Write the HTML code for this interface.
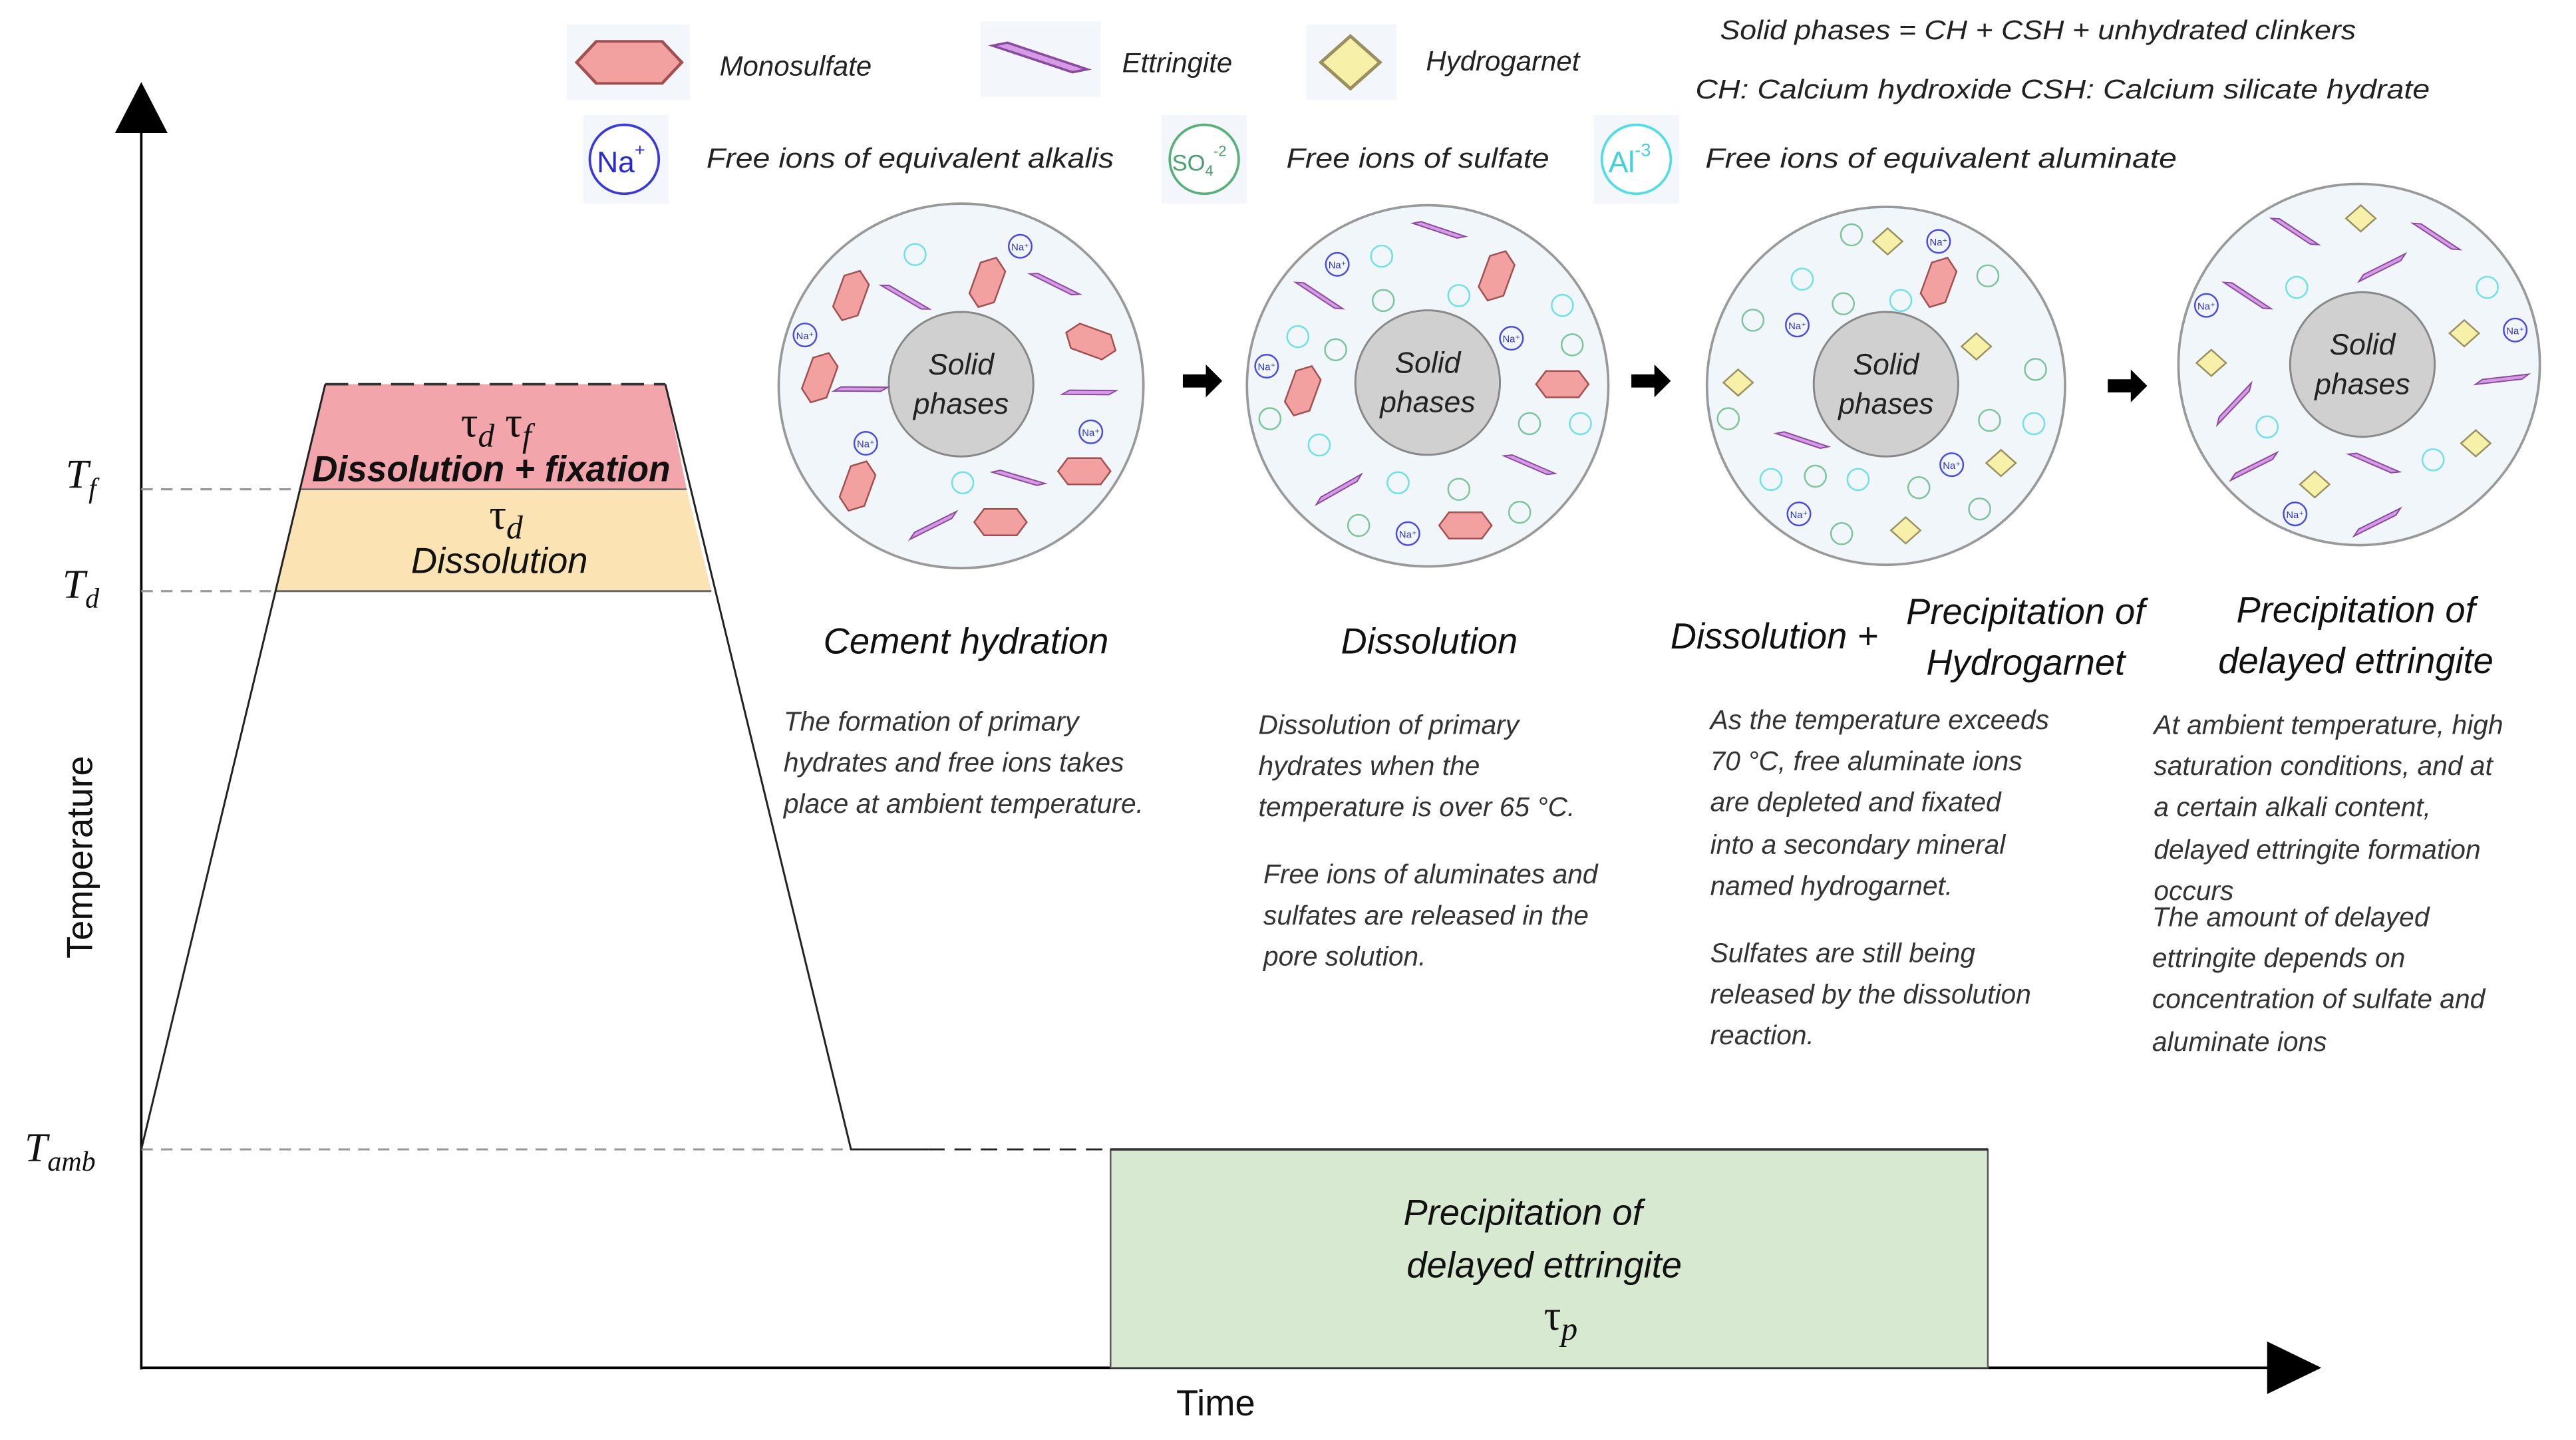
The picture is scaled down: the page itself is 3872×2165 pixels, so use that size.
<!DOCTYPE html>
<html><head><meta charset="utf-8"><style>
html,body{margin:0;padding:0;background:#fff;}
svg{display:block;}
text{font-family:"Liberation Sans",sans-serif;}
text.serif, .serif tspan{font-family:"Liberation Serif",serif;}
.it{font-style:italic;fill:#222;}
.p{font-size:16.5px;font-style:italic;fill:#333;}
.h{font-size:22px;font-style:italic;fill:#111;}
</style></head><body>
<svg width="3872" height="2165" viewBox="0 0 1568 877" preserveAspectRatio="none" xmlns="http://www.w3.org/2000/svg">
<defs>
<polygon id="hex" points="-16,0 -10,-8 10,-8 16,0 10,8 -10,8" fill="#f2a0a0" stroke="#a05050" stroke-width="1"/>
<polygon id="ett" points="-16,-4 -11,-5 16,4 11,5" fill="#d79be6" stroke="#8a4aa0" stroke-width="0.8"/>
<polygon id="dia" points="0,-8 9,0 0,8 -9,0" fill="#f7f0a8" stroke="#999060" stroke-width="1"/>
<g id="na"><circle r="7" fill="none" stroke="#4a4ae0" stroke-width="1"/><text x="0" y="2.5" font-size="6" text-anchor="middle" fill="#3030c0">Na⁺</text></g>
<circle id="al" r="6.5" fill="none" stroke="#6ee0e8" stroke-width="1"/>
<circle id="so" r="6.5" fill="none" stroke="#7cc49a" stroke-width="1"/>
<polygon id="arr" points="-12,-4 2,-4 2,-10 12,0 2,10 2,4 -12,4" fill="#000"/>
</defs>

<line x1="86" y1="70" x2="86" y2="834" stroke="#000" stroke-width="1.5"/>
<polygon points="70,81 86,50 102,81" fill="#000"/>
<line x1="86" y1="833" x2="1385" y2="833" stroke="#000" stroke-width="1.5"/>
<polygon points="1380,817 1413,833 1380,849" fill="#000"/>

<g stroke="#999" stroke-width="1.3" stroke-dasharray="7,5">
<line x1="86" y1="298" x2="183" y2="298"/>
<line x1="86" y1="360" x2="168" y2="360"/>
<line x1="86" y1="700" x2="518" y2="700"/>
</g>

<polygon points="198,234 405,234 418,298 183,298" fill="#f2a5ab"/>
<polygon points="183,298 418,298 433,360 168,360" fill="#fbe3b4"/>
<line x1="183" y1="298" x2="418" y2="298" stroke="#666" stroke-width="1"/>
<line x1="168" y1="360" x2="433" y2="360" stroke="#666" stroke-width="1.2"/>
<line x1="198" y1="234" x2="405" y2="234" stroke="#333" stroke-width="1.5" stroke-dasharray="14,6"/>
<polyline points="86,700 198,234" fill="none" stroke="#222" stroke-width="1.2"/>
<polyline points="405,234 518,700 565,700" fill="none" stroke="#222" stroke-width="1.2"/>
<line x1="565" y1="700" x2="676" y2="700" stroke="#222" stroke-width="1.2" stroke-dasharray="10,6"/>

<rect x="676" y="700" width="534" height="133" fill="#d7e9d0" stroke="#555" stroke-width="1"/>
<line x1="676" y1="700" x2="1210" y2="700" stroke="#333" stroke-width="1.5"/>
<text x="927" y="746" class="h" text-anchor="middle">Precipitation of</text>
<text x="940" y="778" class="h" text-anchor="middle">delayed ettringite</text>
<text x="950" y="810" font-size="26" text-anchor="middle" class="serif" fill="#111">τ<tspan font-style="italic" font-size="20" dy="6">p</tspan></text>

<text x="302" y="266" font-size="26" text-anchor="middle" fill="#111" class="serif">τ<tspan font-style="italic" font-size="20" dy="6">d</tspan><tspan dy="-6"> τ</tspan><tspan font-style="italic" font-size="20" dy="6">f</tspan></text>
<text x="299" y="293" class="h" text-anchor="middle" font-weight="bold" font-size="21" textLength="218" lengthAdjust="spacingAndGlyphs">Dissolution + fixation</text>
<text x="308" y="322" font-size="26" text-anchor="middle" fill="#111" class="serif">τ<tspan font-style="italic" font-size="20" dy="6">d</tspan></text>
<text x="304" y="349" class="h" text-anchor="middle">Dissolution</text>

<text x="40" y="297" font-size="25" font-style="italic" class="serif" fill="#111">T<tspan font-size="17" dy="6">f</tspan></text>
<text x="38" y="364" font-size="25" font-style="italic" class="serif" fill="#111">T<tspan font-size="17" dy="6">d</tspan></text>
<text x="15" y="707" font-size="25" font-style="italic" class="serif" fill="#111">T<tspan font-size="17" dy="6">amb</tspan></text>
<text transform="translate(56,522) rotate(-90)" font-size="22" text-anchor="middle" fill="#111">Temperature</text>
<text x="740" y="862" font-size="22" text-anchor="middle" fill="#111">Time</text>

<rect x="345" y="15" width="75" height="46" fill="#f3f7fb"/>
<use href="#hex" transform="translate(383,38) scale(2,1.6)"/>
<text x="438" y="46" font-size="17" class="it">Monosulfate</text>
<rect x="597" y="13" width="73" height="46" fill="#f3f7fb"/>
<use href="#ett" transform="translate(633,35) scale(1.8,1.8)"/>
<text x="683" y="44" font-size="17" class="it">Ettringite</text>
<rect x="795" y="15" width="55" height="46" fill="#f3f7fb"/>
<use href="#dia" transform="translate(822,38) scale(2)"/>
<text x="868" y="43" font-size="17" class="it">Hydrogarnet</text>
<text x="1047" y="24" font-size="16.5" class="it" textLength="387" lengthAdjust="spacingAndGlyphs">Solid phases = CH + CSH + unhydrated clinkers</text>
<text x="1032" y="60" font-size="16.5" class="it" textLength="447" lengthAdjust="spacingAndGlyphs">CH: Calcium hydroxide   CSH: Calcium silicate hydrate</text>

<rect x="355" y="70" width="52" height="54" fill="#f3f7fb"/>
<circle cx="380" cy="97" r="21" fill="#fff" stroke="#3a3ad8" stroke-width="1.5"/>
<text x="378" y="105" font-size="18" text-anchor="middle" fill="#2a2ad0">Na<tspan font-size="11" dy="-10">+</tspan></text>
<text x="430" y="102" font-size="17" class="it" textLength="248" lengthAdjust="spacingAndGlyphs">Free ions of equivalent alkalis</text>
<rect x="707" y="70" width="52" height="54" fill="#f3f7fb"/>
<circle cx="733" cy="97" r="21" fill="#fff" stroke="#58b07a" stroke-width="1.5"/>
<text x="730" y="104" font-size="14" text-anchor="middle" fill="#4aa070">SO<tspan font-size="9" dy="3">4</tspan><tspan font-size="9" dy="-12">-2</tspan></text>
<text x="783" y="102" font-size="17" class="it" textLength="160" lengthAdjust="spacingAndGlyphs">Free ions of sulfate</text>
<rect x="970" y="70" width="52" height="54" fill="#f3f7fb"/>
<circle cx="996" cy="97" r="21" fill="#fff" stroke="#50dde6" stroke-width="1.5"/>
<text x="992" y="105" font-size="18" text-anchor="middle" fill="#40d0dc">Al<tspan font-size="11" dy="-10">-3</tspan></text>
<text x="1038" y="102" font-size="17" class="it" textLength="287" lengthAdjust="spacingAndGlyphs">Free ions of equivalent  aluminate</text>

<g stroke="#999" stroke-width="1.5">
<circle cx="585" cy="235" r="111" fill="#f0f6fa"/>
<circle cx="869" cy="235" r="110" fill="#f0f6fa"/>
<circle cx="1148" cy="235" r="109" fill="#f0f6fa"/>
<circle cx="1436" cy="222" r="110" fill="#f0f6fa"/>
</g>
<g fill="#d0d0d0" stroke="#888" stroke-width="1.2">
<circle cx="585" cy="234" r="44"/>
<circle cx="869" cy="233" r="44"/>
<circle cx="1148" cy="234" r="44"/>
<circle cx="1438" cy="222" r="44"/>
</g>
<g font-size="18" font-style="italic" fill="#222" text-anchor="middle">
<text x="585" y="228">Solid</text><text x="585" y="252">phases</text>
<text x="869" y="227">Solid</text><text x="869" y="251">phases</text>
<text x="1148" y="228">Solid</text><text x="1148" y="252">phases</text>
<text x="1438" y="216">Solid</text><text x="1438" y="240">phases</text>
</g>

<use href="#hex" transform="translate(518,180) rotate(-70)"/>
<use href="#hex" transform="translate(601,172) rotate(-70)"/>
<use href="#hex" transform="translate(664,208) rotate(20)"/>
<use href="#hex" transform="translate(499,230) rotate(-70)"/>
<use href="#hex" transform="translate(522,296) rotate(-70)"/>
<use href="#hex" transform="translate(660,287)"/>
<use href="#hex" transform="translate(609,318)"/>
<use href="#ett" transform="translate(551,181) rotate(12)"/>
<use href="#ett" transform="translate(642,173) rotate(8)"/>
<use href="#ett" transform="translate(524,237) rotate(-18)"/>
<use href="#ett" transform="translate(663,239) rotate(-18)"/>
<use href="#ett" transform="translate(620,291) rotate(-2)"/>
<use href="#ett" transform="translate(568,320) rotate(-45)"/>
<use href="#na" x="621" y="150"/><use href="#na" x="490" y="204"/><use href="#na" x="527" y="270"/><use href="#na" x="664" y="263"/>
<use href="#al" x="557" y="155"/><use href="#al" x="586" y="294"/>

<use href="#ett" transform="translate(876,140) rotate(0)"/>
<use href="#ett" transform="translate(803,180) rotate(15)"/>
<use href="#ett" transform="translate(931,283) rotate(5)"/>
<use href="#ett" transform="translate(815,298) rotate(-48)"/>
<use href="#hex" transform="translate(911,168) rotate(-70)"/>
<use href="#hex" transform="translate(793,238) rotate(-70)"/>
<use href="#hex" transform="translate(951,234)"/>
<use href="#hex" transform="translate(892,320)"/>
<use href="#na" x="814" y="161"/><use href="#na" x="920" y="206"/><use href="#na" x="771" y="223"/><use href="#na" x="857" y="325"/>
<use href="#al" x="841" y="156"/><use href="#al" x="888" y="180"/><use href="#al" x="951" y="186"/><use href="#al" x="790" y="205"/><use href="#al" x="803" y="271"/><use href="#al" x="851" y="294"/><use href="#al" x="962" y="258"/>
<use href="#so" x="842" y="183"/><use href="#so" x="813" y="213"/><use href="#so" x="957" y="210"/><use href="#so" x="773" y="255"/><use href="#so" x="931" y="258"/><use href="#so" x="888" y="298"/><use href="#so" x="827" y="320"/><use href="#so" x="925" y="312"/>

<use href="#dia" x="1149" y="147"/><use href="#dia" x="1203" y="211"/><use href="#dia" x="1058" y="233"/><use href="#dia" x="1218" y="282"/><use href="#dia" x="1160" y="323"/>
<use href="#hex" transform="translate(1180,172) rotate(-70)"/>
<use href="#ett" transform="translate(1097,268) rotate(0)"/>
<use href="#na" x="1180" y="147"/><use href="#na" x="1094" y="198"/><use href="#na" x="1188" y="283"/><use href="#na" x="1095" y="313"/>
<use href="#so" x="1127" y="143"/><use href="#so" x="1210" y="168"/><use href="#al" x="1097" y="170"/><use href="#al" x="1157" y="183"/><use href="#so" x="1122" y="185"/><use href="#so" x="1067" y="195"/><use href="#so" x="1239" y="225"/><use href="#so" x="1052" y="255"/><use href="#so" x="1211" y="256"/><use href="#al" x="1238" y="258"/><use href="#al" x="1078" y="292"/><use href="#so" x="1105" y="290"/><use href="#al" x="1131" y="292"/><use href="#so" x="1168" y="297"/><use href="#so" x="1205" y="310"/><use href="#so" x="1121" y="325"/>

<use href="#dia" x="1437" y="133"/><use href="#dia" x="1346" y="221"/><use href="#dia" x="1500" y="203"/><use href="#dia" x="1507" y="270"/><use href="#dia" x="1409" y="295"/>
<use href="#ett" transform="translate(1397,141) rotate(15)"/>
<use href="#ett" transform="translate(1483,144) rotate(15)"/>
<use href="#ett" transform="translate(1450,163) rotate(-45)"/>
<use href="#ett" transform="translate(1368,180) rotate(15)"/>
<use href="#ett" transform="translate(1523,231) rotate(-25)"/>
<use href="#ett" transform="translate(1360,246) rotate(-65)"/>
<use href="#ett" transform="translate(1372,284) rotate(-45)"/>
<use href="#ett" transform="translate(1445,282) rotate(5)"/>
<use href="#ett" transform="translate(1447,318) rotate(-45)"/>
<use href="#na" x="1343" y="186"/><use href="#na" x="1531" y="201"/><use href="#na" x="1397" y="313"/>
<use href="#al" x="1398" y="175"/><use href="#al" x="1514" y="175"/><use href="#al" x="1380" y="260"/><use href="#al" x="1481" y="280"/>

<use href="#arr" x="732" y="232"/>
<use href="#arr" x="1005" y="232"/>
<use href="#arr" x="1295" y="235"/>

<text x="588" y="398" class="h" text-anchor="middle">Cement hydration</text>
<text x="870" y="398" class="h" text-anchor="middle">Dissolution</text>
<text x="1080" y="395" class="h" text-anchor="middle">Dissolution +</text>
<text x="1233" y="380" class="h" text-anchor="middle">Precipitation of</text>
<text x="1233" y="411" class="h" text-anchor="middle">Hydrogarnet</text>
<text x="1434" y="379" class="h" text-anchor="middle">Precipitation of</text>
<text x="1434" y="410" class="h" text-anchor="middle">delayed ettringite</text>

<g class="p">
<text x="477" y="445">The formation of primary</text>
<text x="477" y="470">hydrates and free ions takes</text>
<text x="477" y="495">place at ambient temperature.</text>
<text x="766" y="447">Dissolution of primary</text>
<text x="766" y="472">hydrates when the</text>
<text x="766" y="497">temperature is over 65 °C.</text>
<text x="769" y="538">Free ions of aluminates and</text>
<text x="769" y="563">sulfates are released in the</text>
<text x="769" y="588">pore solution.</text>
<text x="1041" y="444">As the temperature exceeds</text>
<text x="1041" y="469">70 °C, free aluminate ions</text>
<text x="1041" y="494">are depleted and fixated</text>
<text x="1041" y="520">into a secondary mineral</text>
<text x="1041" y="545">named hydrogarnet.</text>
<text x="1041" y="586">Sulfates are still being</text>
<text x="1041" y="611">released by the dissolution</text>
<text x="1041" y="636">reaction.</text>
<text x="1311" y="447">At ambient temperature, high</text>
<text x="1311" y="472">saturation conditions, and at</text>
<text x="1311" y="497">a certain alkali content,</text>
<text x="1311" y="523">delayed ettringite formation</text>
<text x="1311" y="548">occurs</text>
<text x="1310" y="564">The amount of delayed</text>
<text x="1310" y="589">ettringite depends on</text>
<text x="1310" y="614">concentration of sulfate and</text>
<text x="1310" y="640">aluminate ions</text>
</g>
</svg>
</body></html>
